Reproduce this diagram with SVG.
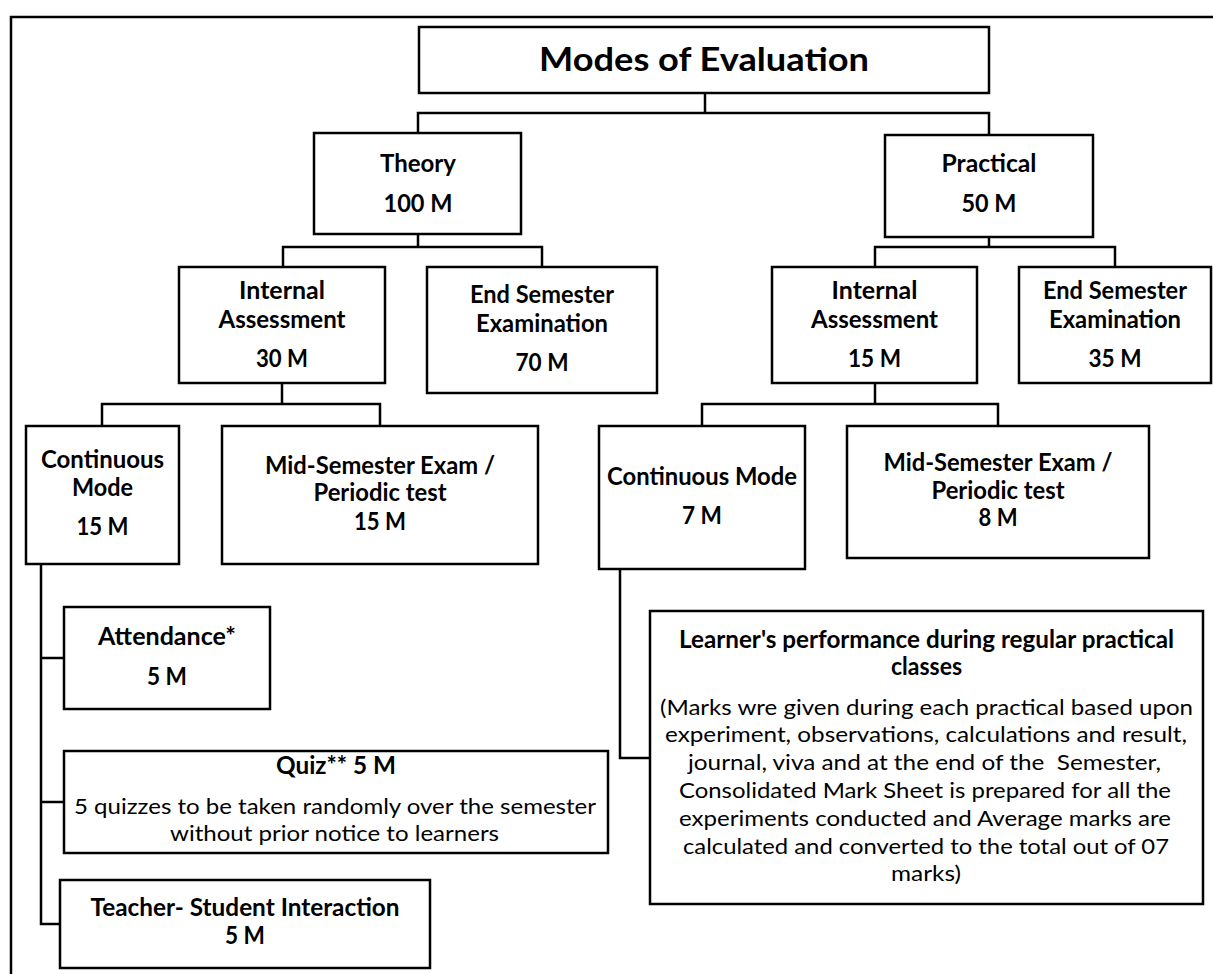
<svg xmlns="http://www.w3.org/2000/svg" width="1213" height="974" viewBox="0 0 1213 974">
<style>
.box{fill:#fff;stroke:#000;stroke-width:2.5}
.conn{fill:none;stroke:#000;stroke-width:2.5;stroke-linejoin:miter}
text{font-family:Lato,"Liberation Sans",sans-serif;text-anchor:middle;fill:#000}
.b{font-weight:700;font-size:24px}
.t{font-weight:700;font-size:33px}
.r{font-weight:400;font-size:21px}
</style>
<rect x="0" y="0" width="1213" height="974" fill="#fff"/>
<path class="conn" d="M11,974 V17 H1213"/>
<g id="connectors">
<path class="conn" d="M705,93 V113"/>
<path class="conn" d="M418,133 V113 H989 V135"/>
<path class="conn" d="M418,234 V247"/>
<path class="conn" d="M283,267 V247 H542 V267"/>
<path class="conn" d="M989,237 V247"/>
<path class="conn" d="M875,267 V247 H1115 V267"/>
<path class="conn" d="M282,383 V404"/>
<path class="conn" d="M102,426 V404 H380 V426"/>
<path class="conn" d="M875,383 V404"/>
<path class="conn" d="M702,426 V404 H998 V426"/>
<path class="conn" d="M41,564 V924 H60"/>
<path class="conn" d="M41,658 H64"/>
<path class="conn" d="M41,802 H64"/>
<path class="conn" d="M620,569 V758 H650"/>
</g>
<g id="title">
<rect class="box" x="419" y="27" width="570" height="66"/>
<text class="t" x="704" y="71" textLength="330" lengthAdjust="spacingAndGlyphs">Modes of Evaluation</text>
</g>
<g id="theory">
<rect class="box" x="314" y="133" width="207" height="101"/>
<text class="b" x="418" y="172" textLength="76" lengthAdjust="spacingAndGlyphs">Theory</text>
<text class="b" x="418" y="212" textLength="69" lengthAdjust="spacingAndGlyphs">100 M</text>
</g>
<g id="practical">
<rect class="box" x="885" y="135" width="208" height="102"/>
<text class="b" x="989" y="172" textLength="95" lengthAdjust="spacingAndGlyphs">Practical</text>
<text class="b" x="989" y="212" textLength="55" lengthAdjust="spacingAndGlyphs">50 M</text>
</g>
<g id="theory-internal">
<rect class="box" x="179" y="267" width="206" height="116"/>
<text class="b" x="282" y="299" textLength="86" lengthAdjust="spacingAndGlyphs">Internal</text>
<text class="b" x="282" y="328" textLength="127" lengthAdjust="spacingAndGlyphs">Assessment</text>
<text class="b" x="282" y="367" textLength="52" lengthAdjust="spacingAndGlyphs">30 M</text>
</g>
<g id="theory-end">
<rect class="box" x="427" y="267" width="230" height="126"/>
<text class="b" x="542" y="303" textLength="144" lengthAdjust="spacingAndGlyphs">End Semester</text>
<text class="b" x="542" y="332" textLength="132" lengthAdjust="spacingAndGlyphs">Examination</text>
<text class="b" x="542" y="371" textLength="53" lengthAdjust="spacingAndGlyphs">70 M</text>
</g>
<g id="practical-internal">
<rect class="box" x="772" y="267" width="205" height="116"/>
<text class="b" x="874.5" y="299" textLength="86" lengthAdjust="spacingAndGlyphs">Internal</text>
<text class="b" x="874.5" y="328" textLength="127" lengthAdjust="spacingAndGlyphs">Assessment</text>
<text class="b" x="874.5" y="367" textLength="53" lengthAdjust="spacingAndGlyphs">15 M</text>
</g>
<g id="practical-end">
<rect class="box" x="1019" y="267" width="192" height="116"/>
<text class="b" x="1115" y="299" textLength="144" lengthAdjust="spacingAndGlyphs">End Semester</text>
<text class="b" x="1115" y="328" textLength="132" lengthAdjust="spacingAndGlyphs">Examination</text>
<text class="b" x="1115" y="367" textLength="53" lengthAdjust="spacingAndGlyphs">35 M</text>
</g>
<g id="theory-continuous">
<rect class="box" x="26" y="426" width="153" height="138"/>
<text class="b" x="102.5" y="468" textLength="123" lengthAdjust="spacingAndGlyphs">Continuous</text>
<text class="b" x="102.5" y="496" textLength="61" lengthAdjust="spacingAndGlyphs">Mode</text>
<text class="b" x="102.5" y="535" textLength="52" lengthAdjust="spacingAndGlyphs">15 M</text>
</g>
<g id="theory-midsem">
<rect class="box" x="222" y="426" width="316" height="138"/>
<text class="b" x="380" y="474" textLength="230" lengthAdjust="spacingAndGlyphs">Mid-Semester Exam /</text>
<text class="b" x="380" y="501" textLength="133" lengthAdjust="spacingAndGlyphs">Periodic test</text>
<text class="b" x="380" y="530" textLength="52" lengthAdjust="spacingAndGlyphs">15 M</text>
</g>
<g id="practical-continuous">
<rect class="box" x="599" y="426" width="206" height="143"/>
<text class="b" x="702" y="485" textLength="190" lengthAdjust="spacingAndGlyphs">Continuous Mode</text>
<text class="b" x="702" y="524" textLength="40" lengthAdjust="spacingAndGlyphs">7 M</text>
</g>
<g id="practical-midsem">
<rect class="box" x="847" y="426" width="302" height="132"/>
<text class="b" x="998" y="471" textLength="229" lengthAdjust="spacingAndGlyphs">Mid-Semester Exam /</text>
<text class="b" x="998" y="499" textLength="133" lengthAdjust="spacingAndGlyphs">Periodic test</text>
<text class="b" x="998" y="526" textLength="39" lengthAdjust="spacingAndGlyphs">8 M</text>
</g>
<g id="attendance">
<rect class="box" x="64" y="607" width="206" height="102"/>
<text class="b" x="167" y="645" textLength="138" lengthAdjust="spacingAndGlyphs">Attendance*</text>
<text class="b" x="167" y="685" textLength="40" lengthAdjust="spacingAndGlyphs">5 M</text>
</g>
<g id="quiz">
<rect class="box" x="64" y="751" width="544" height="102"/>
<text class="b" x="336" y="774" textLength="120" lengthAdjust="spacingAndGlyphs">Quiz** 5 M</text>
<text class="r" x="335" y="814" textLength="522" lengthAdjust="spacingAndGlyphs">5 quizzes to be taken randomly over the semester</text>
<text class="r" x="334.5" y="841" textLength="329" lengthAdjust="spacingAndGlyphs">without prior notice to learners</text>
</g>
<g id="teacher">
<rect class="box" x="60" y="880" width="370" height="88"/>
<text class="b" x="245" y="916" textLength="309" lengthAdjust="spacingAndGlyphs">Teacher- Student Interaction</text>
<text class="b" x="245" y="944" textLength="40" lengthAdjust="spacingAndGlyphs">5 M</text>
</g>
<g id="learner">
<rect class="box" x="650" y="611" width="553" height="293"/>
<text class="b" x="926.5" y="648" textLength="495" lengthAdjust="spacingAndGlyphs">Learner's performance during regular practical</text>
<text class="b" x="926.5" y="675" textLength="71" lengthAdjust="spacingAndGlyphs">classes</text>
<text class="r" x="926.5" y="715" textLength="533" lengthAdjust="spacingAndGlyphs">(Marks wre given during each practical based upon</text>
<text class="r" x="926" y="742" textLength="522" lengthAdjust="spacingAndGlyphs">experiment, observations, calculations and result,</text>
<text class="r" x="924.5" y="770" textLength="473" lengthAdjust="spacingAndGlyphs" xml:space="preserve">journal, viva and at the end of the  Semester,</text>
<text class="r" x="925" y="798" textLength="492" lengthAdjust="spacingAndGlyphs">Consolidated Mark Sheet is prepared for all the</text>
<text class="r" x="925" y="826" textLength="492" lengthAdjust="spacingAndGlyphs">experiments conducted and Average marks are</text>
<text class="r" x="926" y="854" textLength="486" lengthAdjust="spacingAndGlyphs">calculated and converted to the total out of 07</text>
<text class="r" x="926" y="881" textLength="70" lengthAdjust="spacingAndGlyphs">marks)</text>
</g>
</svg>
